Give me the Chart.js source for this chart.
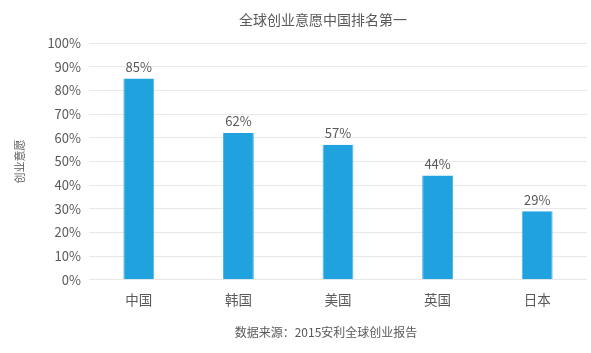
<!DOCTYPE html>
<html>
<head>
<meta charset="utf-8">
<script src="https://cdn.jsdelivr.net/npm/chart.js@4/dist/chart.umd.min.js"></script>
<style>
  html, body { margin: 0; padding: 0; background: #fff; }
  #wrap { width: 591px; height: 353px; }
</style>
</head>
<body>
<div id="wrap"><canvas id="chart" width="591" height="353"></canvas></div>
<script>
const FONT = "'Noto Sans CJK SC', 'Noto Sans', sans-serif";
const TEXT = "#595959";

const countries = ["中国", "韩国", "美国", "英国", "日本"];
const willingness = [85, 62, 57, 44, 29]; // %
const yTicks = [0, 10, 20, 30, 40, 50, 60, 70, 80, 90, 100];
const chartTitle = "全球创业意愿中国排名第一";
const sourceNote = "数据来源：2015安利全球创业报告";

// 柱顶数值 + 标题/来源（标题不是居中于整张画布，所以自己画）
const extraText = {
  id: "extraText",
  afterDatasetsDraw(chart) {
    const { ctx } = chart;
    const meta = chart.getDatasetMeta(0);
    ctx.save();
    ctx.font = `13px ${FONT}`;
    ctx.fillStyle = TEXT;
    ctx.textAlign = "center";
    ctx.textBaseline = "bottom";
    meta.data.forEach((bar, i) => {
      ctx.fillText(willingness[i] + "%", bar.x, bar.y - 5);
    });

    ctx.textBaseline = "middle";
    ctx.font = `14px ${FONT}`;
    ctx.fillText(chartTitle, 323, 20);
    ctx.font = `12px ${FONT}`;
    ctx.fillText(sourceNote, 326, 332);
    ctx.restore();
  }
};

new Chart(document.getElementById("chart"), {
  type: "bar",
  data: {
    labels: countries,
    datasets: [{
      label: "创业意愿",
      data: willingness,
      backgroundColor: "#1fa2dd",
      borderColor: "#4db5e6",
      borderWidth: { left: 1, right: 1, top: 0, bottom: 0 },
      categoryPercentage: 1,
      barPercentage: 0.31
    }]
  },
  options: {
    responsive: false,
    animation: false,
    layout: { padding: { left: 0, right: 4, top: 43, bottom: 41 } },
    plugins: {
      legend: { display: false },
      tooltip: { enabled: false }
    },
    scales: {
      x: {
        grid: { display: false },
        border: { display: false },
        ticks: { color: TEXT, font: { family: FONT, size: 13.5 }, padding: 4 }
      },
      y: {
        min: 0,
        max: 100,
        afterFit(scale) { scale.width = 89; },
        afterBuildTicks(scale) { scale.ticks = yTicks.map(v => ({ value: v })); },
        grid: { color: "#e8e8e8", drawTicks: false },
        border: { display: false },
        ticks: {
          color: TEXT,
          font: { family: FONT, size: 13 },
          padding: 8,
          callback: v => v + "%"
        },
        title: {
          display: true,
          text: "创业意愿",
          color: TEXT,
          font: { family: FONT, size: 11 },
          padding: { top: 13, bottom: 8 }
        }
      }
    }
  },
  plugins: [extraText]
});
</script>
</body>
</html>
